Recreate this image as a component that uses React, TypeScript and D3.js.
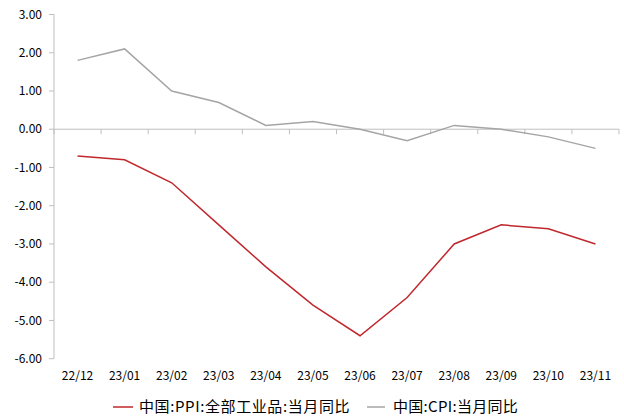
import React from "react";
import * as d3 from "d3";

const categories = ["22/12", "23/01", "23/02", "23/03", "23/04", "23/05", "23/06", "23/07", "23/08", "23/09", "23/10", "23/11"];
const ppiValues = [-0.7, -0.8, -1.4, -2.5, -3.6, -4.6, -5.4, -4.4, -3.0, -2.5, -2.6, -3.0];
const cpiValues = [1.8, 2.1, 1.0, 0.7, 0.1, 0.2, 0.0, -0.3, 0.1, 0.0, -0.2, -0.5];
const yTicks = [3, 2, 1, 0, -1, -2, -3, -4, -5, -6];
const seriesNames = ["中国:PPI:全部工业品:当月同比", "中国:CPI:当月同比"];

const W = 624;
const H = 417;
const FONT = "'Noto Sans CJK SC', 'Noto Sans', sans-serif";

export default function App() {
  const x = d3.scaleBand<string>().domain(categories).range([54, 619]).padding(0);
  const y = d3.scaleLinear().domain([-6, 3]).range([358.7, 14.5]);
  const cx = (c: string) => (x(c) ?? 0) + x.bandwidth() / 2;

  const line = d3
    .line<number>()
    .x((_, i) => cx(categories[i]))
    .y((v) => y(v));

  const axisColor = "#bfbfbf";
  const boundaries = categories.map((c) => x(c) ?? 0).concat([619]);

  return (
    <svg width={W} height={H} style={{ position: "absolute", left: 0, top: 0 }}>
      <rect width={W} height={H} fill="#fff" />
      {/* y axis */}
      <line x1={54} x2={54} y1={y(3)} y2={y(-6)} stroke={axisColor} strokeWidth={1} />
      {yTicks.map((t) => (
        <g key={t}>
          <line x1={49} x2={54} y1={y(t)} y2={y(t)} stroke={axisColor} strokeWidth={1} />
          <text x={42} y={y(t)} dy="0.35em" textAnchor="end" fontSize={12} fontFamily={FONT} fill="#000">
            {t.toFixed(2)}
          </text>
        </g>
      ))}
      {/* x axis at zero */}
      <line x1={54} x2={619} y1={y(0)} y2={y(0)} stroke={axisColor} strokeWidth={1} />
      {boundaries.map((b, i) => (
        <line key={i} x1={b} x2={b} y1={y(0)} y2={y(0) + 5} stroke={axisColor} strokeWidth={1} />
      ))}
      {categories.map((c) => (
        <text key={c} x={cx(c)} y={376} dy="0.35em" textAnchor="middle" fontSize={12} fontFamily={FONT} fill="#000">
          {c}
        </text>
      ))}
      {/* lines */}
      <path d={line(cpiValues) ?? ""} fill="none" stroke="#a5a5a5" strokeWidth={1.5} />
      <path d={line(ppiValues) ?? ""} fill="none" stroke="#c0282d" strokeWidth={1.5} />
      {/* legend */}
      <line x1={113} x2={133} y1={407} y2={407} stroke="#c0282d" strokeWidth={1.5} />
      <text x={139} y={407} dy="0.35em" fontSize={15} letterSpacing={0.6} fontFamily={FONT} fill="#000">
        {seriesNames[0]}
      </text>
      <line x1={367} x2={385} y1={407} y2={407} stroke="#a5a5a5" strokeWidth={1.5} />
      <text x={393} y={407} dy="0.35em" fontSize={15} letterSpacing={0.3} fontFamily={FONT} fill="#000">
        {seriesNames[1]}
      </text>
    </svg>
  );
}
